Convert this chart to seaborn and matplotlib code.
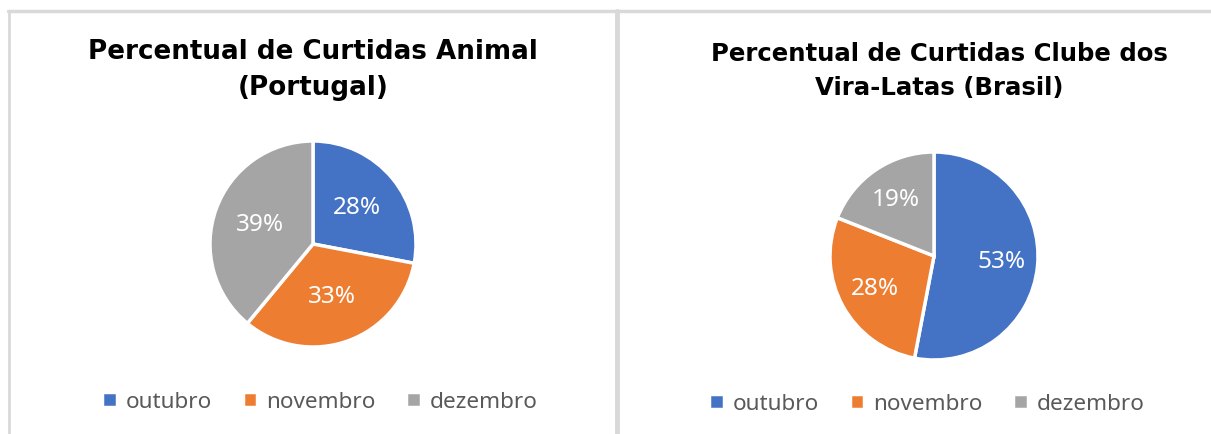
import matplotlib
matplotlib.use("Agg")
import matplotlib.pyplot as plt
import seaborn as sns
from matplotlib.lines import Line2D

sns.set_theme(style="white")
plt.rcParams['font.family'] = ['Noto Sans', 'DejaVu Sans']

# data
months = ['outubro', 'novembro', 'dezembro']
portugal = [28, 33, 39]
brasil = [53, 28, 19]
titles = ['Percentual de Curtidas Animal\n(Portugal)',
          'Percentual de Curtidas Clube dos\nVira-Latas (Brasil)']
colors = ['#4472C4', '#ED7D31', '#A5A5A5']

W, H = 1211, 434
fig = plt.figure(figsize=(W / 100, H / 100), dpi=100)
fig.patch.set_facecolor('white')

# panel borders
border = '#D9D9D9'
fig.add_artist(Line2D([8 / W, 1], [1 - 11 / H] * 2, color=border, lw=2.5, transform=fig.transFigure))
fig.add_artist(Line2D([9 / W] * 2, [0, 1 - 11 / H], color=border, lw=2, transform=fig.transFigure))
fig.add_artist(Line2D([617 / W] * 2, [0, 1 - 11 / H], color=border, lw=3.5, transform=fig.transFigure))


def pie_panel(vals, cx, cy, r, pctd, title, ty, tx, tsize, lx, ly):
    ax = fig.add_axes([(cx - r) / W, 1 - (cy + r) / H, 2 * r / W, 2 * r / H])
    wedges, texts, autotexts = ax.pie(
        vals, colors=colors, startangle=90, counterclock=False,
        autopct='%1.0f%%', pctdistance=pctd,
        wedgeprops=dict(edgecolor='white', linewidth=2.5),
        textprops=dict(color='white', fontsize=17.5))
    ax.set_xlim(-1.0, 1.0)
    ax.set_ylim(-1.0, 1.0)
    ax.set_aspect('equal')
    fig.text(tx / W, 1 - ty / H, title, ha='center', va='center',
             fontsize=tsize, fontweight='bold', color='black',
             family=['DejaVu Sans'], linespacing=1.5)
    fig.legend(wedges, months, loc='center', bbox_to_anchor=(lx / W, 1 - ly / H),
               ncol=3, frameon=False, fontsize=16.2, handlelength=0.65, handleheight=0.65,
               handletextpad=0.4, columnspacing=1.35, labelcolor='#595959')
    return ax


pie_panel(portugal, 313, 244, 103, 0.55, titles[0], 70, 313, 18.8, 320, 402)
pie_panel(brasil, 934, 256, 104, 0.65, titles[1], 71, 939, 17.6, 927, 404)

fig.savefig('out.png', dpi=100, facecolor='white')
